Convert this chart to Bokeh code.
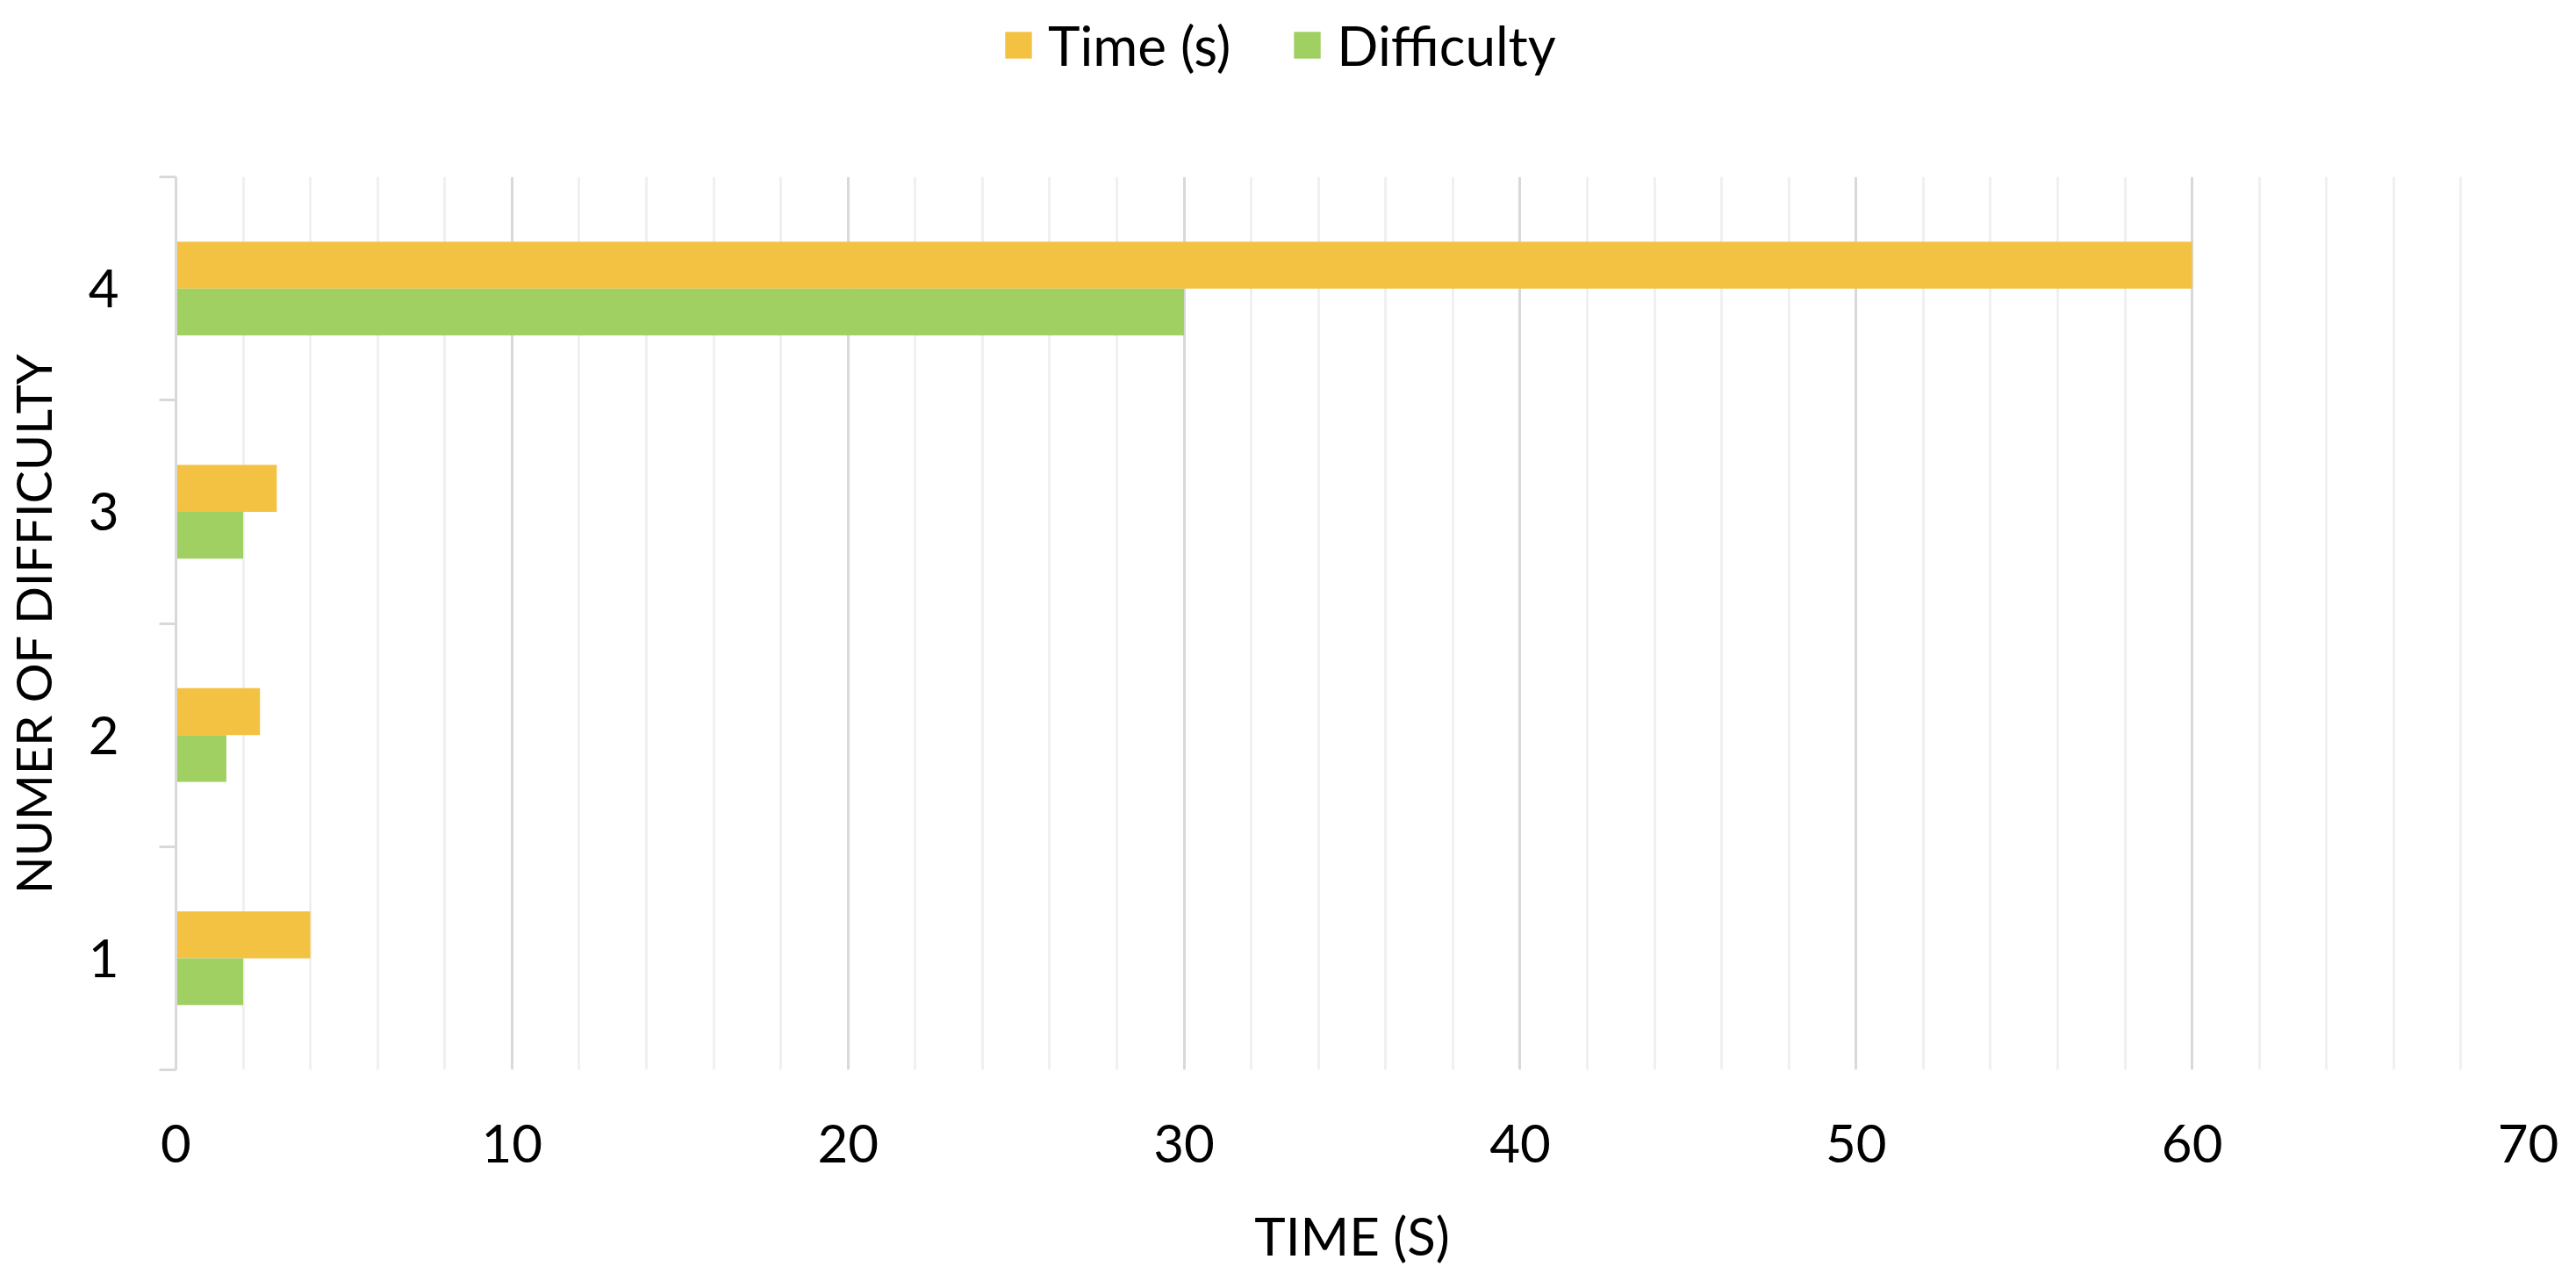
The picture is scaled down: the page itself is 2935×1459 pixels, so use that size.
from bokeh.plotting import figure
from bokeh.layouts import column
from bokeh.models import (ColumnDataSource, Range1d, FixedTicker, SingleIntervalTicker,
                          Legend, LegendItem)
from bokeh.transform import dodge
from bokeh.embed import file_html
from bokeh.resources import INLINE

# ---- data ----
categories = [1, 2, 3, 4]
time_s = [4, 2.5, 3, 60]
difficulty = [2, 1.5, 2, 30]
cat_labels = ["1", "2", "3", "4"]
series_names = ["Time (s)", "Difficulty"]
colors = ["#F4C242", "#A0CF62"]

src = ColumnDataSource(dict(cat=categories, time=time_s, diff=difficulty))

FONT = "Lato"
W = 2935
bar_h = 0.21

# ---------- main chart ----------
p = figure(width=W, height=1260, output_backend="svg", toolbar_location=None,
           x_range=Range1d(0, 70), y_range=Range1d(0.5, 4.5),
           min_border_left=199, min_border_right=55, min_border_top=2, min_border_bottom=241)
p.outline_line_color = None
p.background_fill_color = "white"
p.border_fill_color = "white"

r1 = p.hbar(y=dodge("cat", bar_h / 2, range=p.y_range), left=0, right="time", height=bar_h,
            source=src, fill_color=colors[0], line_color=None)
r2 = p.hbar(y=dodge("cat", -bar_h / 2, range=p.y_range), left=0, right="diff", height=bar_h,
            source=src, fill_color=colors[1], line_color=None)

# x axis
p.xaxis.ticker = SingleIntervalTicker(interval=10, num_minor_ticks=5)
p.xaxis.axis_line_color = None
p.xaxis.major_tick_line_color = None
p.xaxis.minor_tick_line_color = None
p.xaxis.major_tick_out = 0
p.xaxis.minor_tick_out = 0
p.xaxis.major_label_text_font = FONT
p.xaxis.major_label_text_font_size = "60px"
p.xaxis.major_label_text_color = "black"
p.xaxis.major_label_standoff = 62
p.xaxis.axis_label = "TIME (S)"
p.xaxis.axis_label_text_font = FONT
p.xaxis.axis_label_text_font_size = "60px"
p.xaxis.axis_label_text_font_style = "normal"
p.xaxis.axis_label_text_color = "black"
p.xaxis.axis_label_standoff = 44

# y axis
p.yaxis.ticker = FixedTicker(ticks=categories, minor_ticks=[0.5, 1.5, 2.5, 3.5, 4.5])
p.yaxis.major_label_overrides = {c: l for c, l in zip(categories, cat_labels)}
p.yaxis.axis_line_color = "#D9D9D9"
p.yaxis.axis_line_width = 3
p.yaxis.major_tick_line_color = None
p.yaxis.major_tick_out = 0
p.yaxis.major_tick_in = 0
p.yaxis.minor_tick_line_color = "#D9D9D9"
p.yaxis.minor_tick_line_width = 3
p.yaxis.minor_tick_out = 19
p.yaxis.minor_tick_in = 0
p.yaxis.major_label_text_font = FONT
p.yaxis.major_label_text_font_size = "60px"
p.yaxis.major_label_text_color = "black"
p.yaxis.major_label_standoff = 46
p.yaxis.axis_label = "NUMER OF DIFFICULTY"
p.yaxis.axis_label_text_font = FONT
p.yaxis.axis_label_text_font_size = "56px"
p.yaxis.axis_label_text_font_style = "normal"
p.yaxis.axis_label_text_color = "black"
p.yaxis.axis_label_standoff = 27

# grid
p.ygrid.grid_line_color = None
p.xgrid.grid_line_color = "#D9D9D9"
p.xgrid.grid_line_width = 3
p.xgrid.minor_grid_line_color = "#F0F0F0"
p.xgrid.minor_grid_line_width = 3

# ---------- legend strip above the chart ----------
lg = figure(width=W, height=199, output_backend="svg", toolbar_location=None,
            x_range=Range1d(0, 70), y_range=Range1d(0.5, 4.5),
            x_axis_location=None, y_axis_location=None,
            min_border_left=0, min_border_right=0, min_border_top=0, min_border_bottom=0)
lg.outline_line_color = None
lg.grid.visible = False
lg.background_fill_color = "white"
lg.border_fill_color = "white"
k1 = lg.hbar(y="cat", left=0, right="time", height=bar_h, source=src,
             fill_color=colors[0], line_color=None, visible=False)
k2 = lg.hbar(y="cat", left=0, right="diff", height=bar_h, source=src,
             fill_color=colors[1], line_color=None, visible=False)

legend = Legend(items=[LegendItem(label=series_names[0], renderers=[k1]),
                       LegendItem(label=series_names[1], renderers=[k2])],
                orientation="horizontal", location=(941, 111),
                glyph_width=38, glyph_height=38, label_standoff=15, spacing=68,
                padding=0, margin=0, border_line_color=None, background_fill_alpha=0,
                inactive_fill_alpha=0,
                label_text_font=FONT, label_text_font_size="62px", label_text_color="black")
lg.add_layout(legend, "center")

layout = column(lg, p, spacing=0)
open("out.html", "w").write(file_html(layout, INLINE))
